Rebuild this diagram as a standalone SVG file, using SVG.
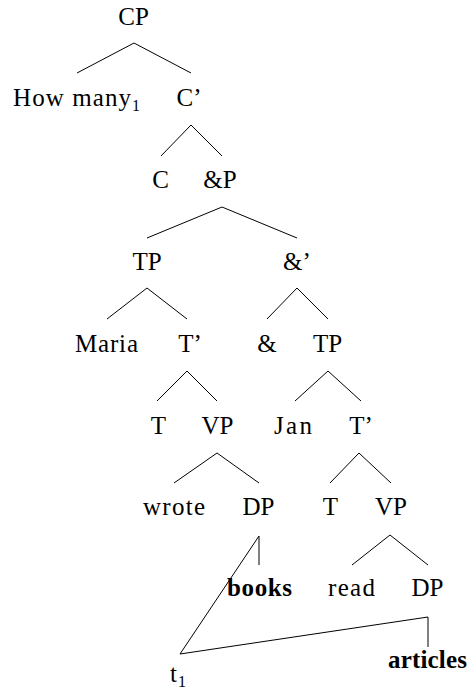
<svg xmlns="http://www.w3.org/2000/svg" width="475" height="696" viewBox="0 0 475 696">
<style>
text{font-family:"Liberation Serif","Times New Roman",serif;font-size:25px;fill:#000;text-anchor:middle}
.b{font-weight:bold}
.l{text-anchor:start}
.s{font-size:16px;text-anchor:start}
line{stroke:#000;stroke-width:1}
</style>
<rect width="475" height="696" fill="#fff"/>
<g id="connectors">
<line x1="134" y1="43" x2="77" y2="73"/><line x1="134" y1="43" x2="191" y2="73"/>
<line x1="191" y1="125" x2="161" y2="156"/><line x1="191" y1="125" x2="222" y2="156"/>
<line x1="222" y1="207" x2="147" y2="238"/><line x1="222" y1="207" x2="297" y2="238"/>
<line x1="147" y1="288" x2="107" y2="319"/><line x1="147" y1="288" x2="187" y2="319"/>
<line x1="297" y1="288" x2="267" y2="319"/><line x1="297" y1="288" x2="328" y2="319"/>
<line x1="187" y1="371" x2="157" y2="401"/><line x1="187" y1="371" x2="217" y2="401"/>
<line x1="328" y1="371" x2="295" y2="401"/><line x1="328" y1="371" x2="361" y2="401"/>
<line x1="217" y1="453" x2="174" y2="483"/><line x1="217" y1="453" x2="259" y2="483"/>
<line x1="359" y1="453" x2="330" y2="483"/><line x1="359" y1="453" x2="391" y2="483"/>
<line x1="259" y1="536" x2="259" y2="565"/><line x1="259" y1="536" x2="180" y2="654"/>
<line x1="390" y1="535" x2="352" y2="565"/><line x1="390" y1="535" x2="428" y2="565"/>
<line x1="428" y1="617" x2="428" y2="647"/><line x1="428" y1="617" x2="180" y2="654"/>
</g>
<g id="n-CP"><text x="133.5" y="25">CP</text></g>
<g id="n-howmany"><text class="l" x="13" y="106" textLength="118">How many</text><text class="s" x="132" y="111">1</text></g>
<g id="n-Cbar"><text x="189" y="106">C’</text></g>
<g id="n-C"><text x="160.5" y="188">C</text></g>
<g id="n-andP"><text x="220" y="188">&amp;P</text></g>
<g id="n-TP1"><text x="147" y="270">TP</text></g>
<g id="n-andbar"><text x="297" y="270">&amp;’</text></g>
<g id="n-Maria"><text class="l" x="75" y="352" textLength="63">Maria</text></g>
<g id="n-Tbar1"><text x="190" y="352">T’</text></g>
<g id="n-and"><text x="267" y="352">&amp;</text></g>
<g id="n-TP2"><text x="327.5" y="352">TP</text></g>
<g id="n-T1"><text x="158.5" y="434">T</text></g>
<g id="n-VP1"><text x="217.5" y="434">VP</text></g>
<g id="n-Jan"><text class="l" x="274" y="434" textLength="38">Jan</text></g>
<g id="n-Tbar2"><text x="361" y="434">T’</text></g>
<g id="n-wrote"><text class="l" x="143" y="515" textLength="62">wrote</text></g>
<g id="n-DP1"><text x="258.5" y="515">DP</text></g>
<g id="n-T2"><text x="330.5" y="515">T</text></g>
<g id="n-VP2"><text x="391" y="515">VP</text></g>
<g id="n-books"><text class="b l" x="227" y="596" textLength="65">books</text></g>
<g id="n-read"><text class="l" x="328" y="596" textLength="47">read</text></g>
<g id="n-DP2"><text x="427.5" y="596">DP</text></g>
<g id="n-t1"><text class="l" x="170" y="682">t</text><text class="s" x="178" y="687">1</text></g>
<g id="n-articles"><text class="b l" x="388" y="668" textLength="79">articles</text></g>
</svg>
